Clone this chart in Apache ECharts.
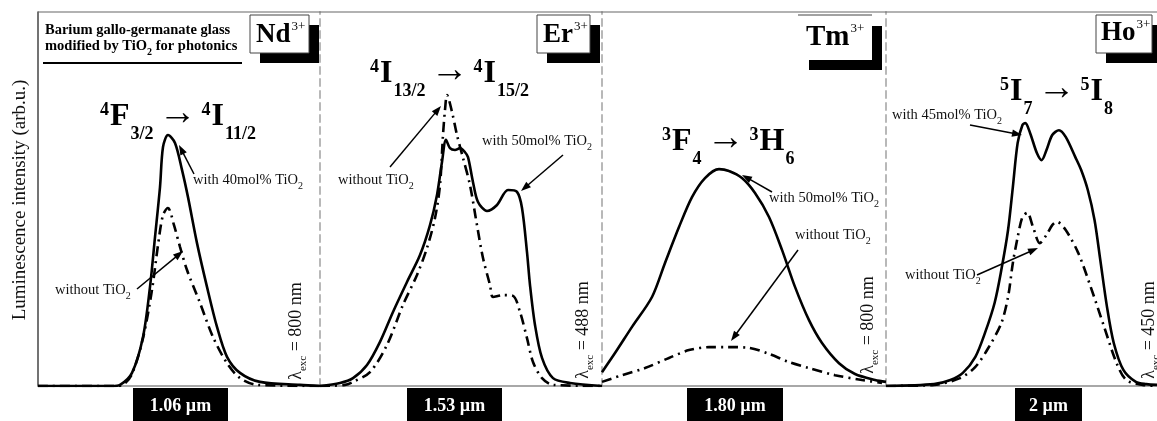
<!DOCTYPE html>
<html>
<head>
<meta charset="utf-8">
<script src="https://cdn.jsdelivr.net/npm/echarts@6/dist/echarts.min.js"></script>
<style>
  html, body { margin: 0; padding: 0; background: #fff; }
  #chart { width: 1157px; height: 421px; }
</style>
</head>
<body>
<div id="chart"></div>
<script>
// element panels, emission bands, excitation wavelengths
var ions = ["Nd", "Er", "Tm", "Ho"];
var bands = ["1.06 \u00b5m", "1.53 \u00b5m", "1.80 \u00b5m", "2 \u00b5m"];
var excitation = ["800", "488", "800", "450"];
var withTiO2 = ["40", "50", "50", "45"];

// wavelength range shown in each panel (nm)
var xMin = [930, 1400, 1560, 1840];
var xMax = [1212, 1682, 2128, 2122];

// [wavelength nm, intensity arb.u.]
var ndWith = [[930,0],[1004,0],[1012,0.3],[1024,3.5],[1035,13.1],[1042,26.5],[1047,39.8],[1052,53.2],[1055,63.9],[1060,67.1],[1067,65.0],[1074,57.8],[1080,50.5],[1089,38.2],[1099,26.5],[1109,15.8],[1119,7.8],[1132,3.5],[1152,1.1],[1192,0.3],[1212,0]];
var ndWithout = [[930,0],[1007,0],[1015,0.3],[1024,3.2],[1035,12.8],[1044,25.7],[1050,37.7],[1055,45.7],[1060,47.6],[1066,43.0],[1072,37.2],[1079,31.0],[1092,22.2],[1105,13.1],[1119,6.1],[1132,2.1],[1149,0.3],[1212,0]];

var erWith = [[1400,0],[1420,0.8],[1433,2.1],[1447,5.6],[1460,11.8],[1473,19.8],[1487,27.8],[1500,35.0],[1510,43.0],[1517,51.1],[1522,59.9],[1526,65.8],[1530,63.6],[1535,63.1],[1540,63.6],[1545,62.5],[1548,61.2],[1553,54.5],[1558,49.2],[1567,46.8],[1577,48.4],[1588,52.4],[1597,51.9],[1602,47.6],[1607,35.8],[1610,27.0],[1615,16.3],[1622,7.5],[1633,2.1],[1650,0.8],[1682,0]];
var erWithout = [[1400,0],[1425,0.3],[1433,1.1],[1450,3.7],[1467,11.0],[1483,21.7],[1497,29.7],[1507,36.9],[1515,44.9],[1520,53.7],[1523,67.1],[1525,73.8],[1527,77.8],[1532,73.3],[1537,67.1],[1543,61.0],[1550,53.7],[1557,43.0],[1563,34.2],[1570,27.0],[1573,23.8],[1583,24.3],[1593,24.1],[1600,19.8],[1607,12.8],[1613,6.4],[1622,2.1],[1633,0.3],[1682,0]];

var tmWith = [[1560,3.7],[1586,8.8],[1620,15.8],[1660,23.8],[1686,32.9],[1714,42.5],[1740,50.5],[1766,55.6],[1794,58.0],[1814,57.5],[1840,55.6],[1866,51.6],[1894,45.2],[1920,36.4],[1946,26.5],[1974,17.6],[2000,11.5],[2034,6.1],[2066,3.2],[2106,1.6],[2128,1.1]];
var tmWithout = [[1560,1.1],[1600,2.9],[1646,4.8],[1694,7.5],[1734,9.6],[1774,10.4],[1814,10.4],[1854,10.2],[1894,8.6],[1934,6.4],[1974,4.8],[2026,2.9],[2080,1.6],[2120,0.8]];

var hoWith = [[1840,0],[1890,0.5],[1907,1.6],[1920,3.5],[1933,7.8],[1943,14.2],[1953,22.2],[1960,31.0],[1967,41.7],[1972,53.2],[1977,65.0],[1982,69.8],[1985,70.3],[1990,67.6],[1997,62.3],[2002,60.4],[2007,63.1],[2013,67.1],[2020,68.4],[2027,66.6],[2037,61.2],[2043,57.8],[2050,52.4],[2057,44.4],[2063,33.7],[2070,21.1],[2077,11.5],[2087,4.3],[2100,1.1],[2111,0.5],[2122,0.3]];
var hoWithout = [[1840,0],[1890,0.3],[1917,2.1],[1933,5.1],[1947,10.4],[1960,16.8],[1967,23.8],[1972,32.9],[1977,39.8],[1982,45.2],[1987,46.3],[1993,42.5],[2000,38.2],[2007,40.4],[2013,43.0],[2018,43.9],[2027,41.7],[2040,35.6],[2053,26.5],[2067,15.8],[2080,6.1],[2090,1.6],[2107,0.3],[2122,0]];

var solidData = [ndWith, erWith, tmWith, hoWith];
var dashData = [ndWithout, erWithout, tmWithout, hoWithout];

var SERIF = '"Liberation Serif", "DejaVu Serif", serif';
var gridLeft = [38, 320, 602, 886];
var gridWidth = [282, 282, 284, 282];

var chart = echarts.init(document.getElementById("chart"));

var grids = [], xAxes = [], yAxes = [], series = [];
for (var i = 0; i < 4; i++) {
  grids.push({ left: gridLeft[i], width: gridWidth[i], top: 12, height: 374 });
  xAxes.push({
    gridIndex: i, type: "value", min: xMin[i], max: xMax[i],
    axisLine: { show: true, onZero: false, lineStyle: { color: "#8c8c8c", width: 1.5 } },
    axisTick: { show: false }, axisLabel: { show: false }, splitLine: { show: false }
  });
  yAxes.push({
    gridIndex: i, type: "value", min: 0, max: 100,
    axisLine: {
      show: true,
      lineStyle: i === 0 ? { color: "#444", width: 1.5 } : { color: "#b8b8b8", width: 2, type: [7, 5] }
    },
    axisTick: { show: false }, axisLabel: { show: false }, splitLine: { show: false }
  });
  series.push({
    type: "line", xAxisIndex: i, yAxisIndex: i, data: solidData[i],
    showSymbol: false, smooth: 0.3, z: 3,
    lineStyle: { color: "#000", width: 2.6 }
  });
  series.push({
    type: "line", xAxisIndex: i, yAxisIndex: i, data: dashData[i],
    showSymbol: false, smooth: 0.3, z: 2,
    lineStyle: { color: "#000", width: 2.6, type: [10, 5, 2, 5] }
  });
}

function arrow(x1, y1, x2, y2) {
  var a = Math.atan2(y2 - y1, x2 - x1);
  var L = 10, W = 3.6;
  var c = Math.cos(a), s = Math.sin(a);
  return [
    { type: "line", z: 20, shape: { x1: x1, y1: y1, x2: x2 - c * L * 0.8, y2: y2 - s * L * 0.8 },
      style: { stroke: "#000", lineWidth: 1.5 } },
    { type: "polygon", z: 20,
      shape: { points: [[x2, y2], [x2 - c * L + s * W, y2 - s * L - c * W], [x2 - c * L - s * W, y2 - s * L + c * W]] },
      style: { fill: "#000" } }
  ];
}

var noteRich = {
  n: { fontSize: 14.5, fontFamily: SERIF, fill: "#111", verticalAlign: "bottom", padding: [0, 0, 3, 0] },
  s: { fontSize: 10, fontFamily: SERIF, fill: "#111", verticalAlign: "bottom" }
};
function note(x, y, txt) {
  return { type: "text", z: 20, x: x, y: y,
    style: { text: txt, rich: noteRich, align: "left", verticalAlign: "middle" } };
}

var transRich = {
  b: { fontSize: 32, fontWeight: "bold", fontFamily: SERIF, fill: "#000", verticalAlign: "bottom", padding: [0, 0, 10, 0] },
  p: { fontSize: 18, fontWeight: "bold", fontFamily: SERIF, fill: "#000", verticalAlign: "bottom", padding: [0, 1, 24, 0] },
  s: { fontSize: 18, fontWeight: "bold", fontFamily: SERIF, fill: "#000", verticalAlign: "bottom", padding: [0, 0, 0, 1] },
  a: { fontSize: 38, fontFamily: SERIF, fill: "#000", verticalAlign: "bottom", padding: [0, 5, 10, 5] }
};
function transition(x, y, txt) {
  return { type: "text", z: 20, x: x, y: y,
    style: { text: txt, rich: transRich, align: "left", verticalAlign: "bottom" } };
}

function ionBox(bx, by, bw, bh, txt, size, tx, ty, border) {
  return [
    { type: "rect", z: 10, shape: { x: bx + 10, y: by + 10, width: bw, height: bh }, style: { fill: "#000" } },
    { type: "rect", z: 11, shape: { x: bx, y: by, width: bw, height: bh },
      style: { fill: "#fff", stroke: border ? "#444" : null, lineWidth: 1 } },
    { type: "text", z: 12, x: tx, y: ty,
      style: { text: "{b|" + txt + "}{p|3+}", align: "left", verticalAlign: "bottom",
        rich: {
          b: { fontSize: size, fontWeight: "bold", fontFamily: SERIF, fill: "#000", verticalAlign: "bottom" },
          p: { fontSize: 13, fontFamily: SERIF, fill: "#000", verticalAlign: "bottom", padding: [0, 0, size * 0.58, 1] }
        } } }
  ];
}

function excLabel(x, y, nm) {
  return { type: "text", z: 20, x: x, y: y, rotation: Math.PI / 2,
    style: { text: "{l|\u03bb}{s|exc}{l| = " + nm + " nm}", align: "center", verticalAlign: "middle",
      rich: {
        l: { fontSize: 18, fontFamily: SERIF, fill: "#111", verticalAlign: "bottom", padding: [0, 0, 4, 0] },
        s: { fontSize: 11, fontFamily: SERIF, fill: "#111", verticalAlign: "bottom" }
      } } };
}

function bandBox(x, w, txt) {
  return [
    { type: "rect", z: 10, shape: { x: x, y: 388, width: w, height: 40 }, style: { fill: "#000" } },
    { type: "text", z: 11, x: x + w / 2, y: 406,
      style: { text: txt, fill: "#fff", font: "bold 18px " + SERIF, align: "center", verticalAlign: "middle" } }
  ];
}

var graphic = [];
// frame top
graphic.push({ type: "line", z: 5, shape: { x1: 38, y1: 12, x2: 1157, y2: 12 }, style: { stroke: "#666", lineWidth: 1.2 } });
// y axis title
graphic.push({ type: "text", z: 20, x: 20, y: 200, rotation: Math.PI / 2,
  style: { text: "Luminescence intensity (arb.u.)", font: "19px " + SERIF, fill: "#111", align: "center", verticalAlign: "middle" } });
// title block
graphic.push({ type: "text", z: 20, x: 45, y: 30,
  style: { text: "Barium gallo-germanate glass", font: "bold 14.5px " + SERIF, fill: "#000", align: "left", verticalAlign: "middle" } });
graphic.push({ type: "text", z: 20, x: 45, y: 48,
  style: { text: "{n|modified by TiO}{s|2}{n| for photonics}", align: "left", verticalAlign: "middle",
    rich: {
      n: { fontSize: 14.5, fontWeight: "bold", fontFamily: SERIF, fill: "#000", verticalAlign: "bottom", padding: [0, 0, 3, 0] },
      s: { fontSize: 10, fontWeight: "bold", fontFamily: SERIF, fill: "#000", verticalAlign: "bottom" }
    } } });
graphic.push({ type: "line", z: 20, shape: { x1: 43, y1: 63, x2: 242, y2: 63 }, style: { stroke: "#000", lineWidth: 2 } });

// ion boxes
graphic = graphic.concat(ionBox(250, 15, 59, 38, ions[0], 27, 256, 49, true));
graphic = graphic.concat(ionBox(537, 15, 53, 38, ions[1], 27, 543, 49, true));
graphic = graphic.concat(ionBox(799, 16, 73, 44, ions[2], 29, 806, 52, false));
graphic.push({ type: "line", z: 12, shape: { x1: 798, y1: 15, x2: 872, y2: 15 }, style: { stroke: "#444", lineWidth: 1 } });
graphic = graphic.concat(ionBox(1096, 15, 56, 38, ions[3], 27, 1101, 47, true));

// transitions
graphic.push(transition(100, 143, "{p|4}{b|F}{s|3/2}{a|\u2192}{p|4}{b|I}{s|11/2}"));
graphic.push(transition(370, 100, "{p|4}{b|I}{s|13/2}{a|\u2192}{p|4}{b|I}{s|15/2}"));
graphic.push(transition(662, 168, "{p|3}{b|F}{s|4}{a|\u2192}{p|3}{b|H}{s|6}"));
graphic.push(transition(1000, 118, "{p|5}{b|I}{s|7}{a|\u2192}{p|5}{b|I}{s|8}"));

// annotations
graphic.push(note(193, 182, "{n|with " + withTiO2[0] + "mol% TiO}{s|2}"));
graphic = graphic.concat(arrow(194, 174, 179, 145));
graphic.push(note(55, 292, "{n|without TiO}{s|2}"));
graphic = graphic.concat(arrow(137, 289, 183, 251));

graphic.push(note(338, 182, "{n|without TiO}{s|2}"));
graphic = graphic.concat(arrow(390, 167, 441, 106));
graphic.push(note(482, 143, "{n|with " + withTiO2[1] + "mol% TiO}{s|2}"));
graphic = graphic.concat(arrow(563, 155, 521, 191));

graphic.push(note(769, 200, "{n|with " + withTiO2[2] + "mol% TiO}{s|2}"));
graphic = graphic.concat(arrow(772, 192, 742, 175));
graphic.push(note(795, 237, "{n|without TiO}{s|2}"));
graphic = graphic.concat(arrow(798, 250, 731, 341));

graphic.push(note(892, 117, "{n|with " + withTiO2[3] + "mol% TiO}{s|2}"));
graphic = graphic.concat(arrow(970, 125, 1022, 135));
graphic.push(note(905, 277, "{n|without TiO}{s|2}"));
graphic = graphic.concat(arrow(977, 275, 1038, 248));

// excitation labels
graphic.push(excLabel(298, 331, excitation[0]));
graphic.push(excLabel(585, 330, excitation[1]));
graphic.push(excLabel(870, 325, excitation[2]));
graphic.push(excLabel(1151, 330, excitation[3]));

// band boxes
graphic = graphic.concat(bandBox(133, 95, bands[0]));
graphic = graphic.concat(bandBox(407, 95, bands[1]));
graphic = graphic.concat(bandBox(687, 96, bands[2]));
graphic = graphic.concat(bandBox(1015, 67, bands[3]));

var option = {
  animation: false,
  backgroundColor: "#fff",
  grid: grids,
  xAxis: xAxes,
  yAxis: yAxes,
  series: series,
  graphic: graphic
};
chart.setOption(option);
</script>
</body>
</html>
